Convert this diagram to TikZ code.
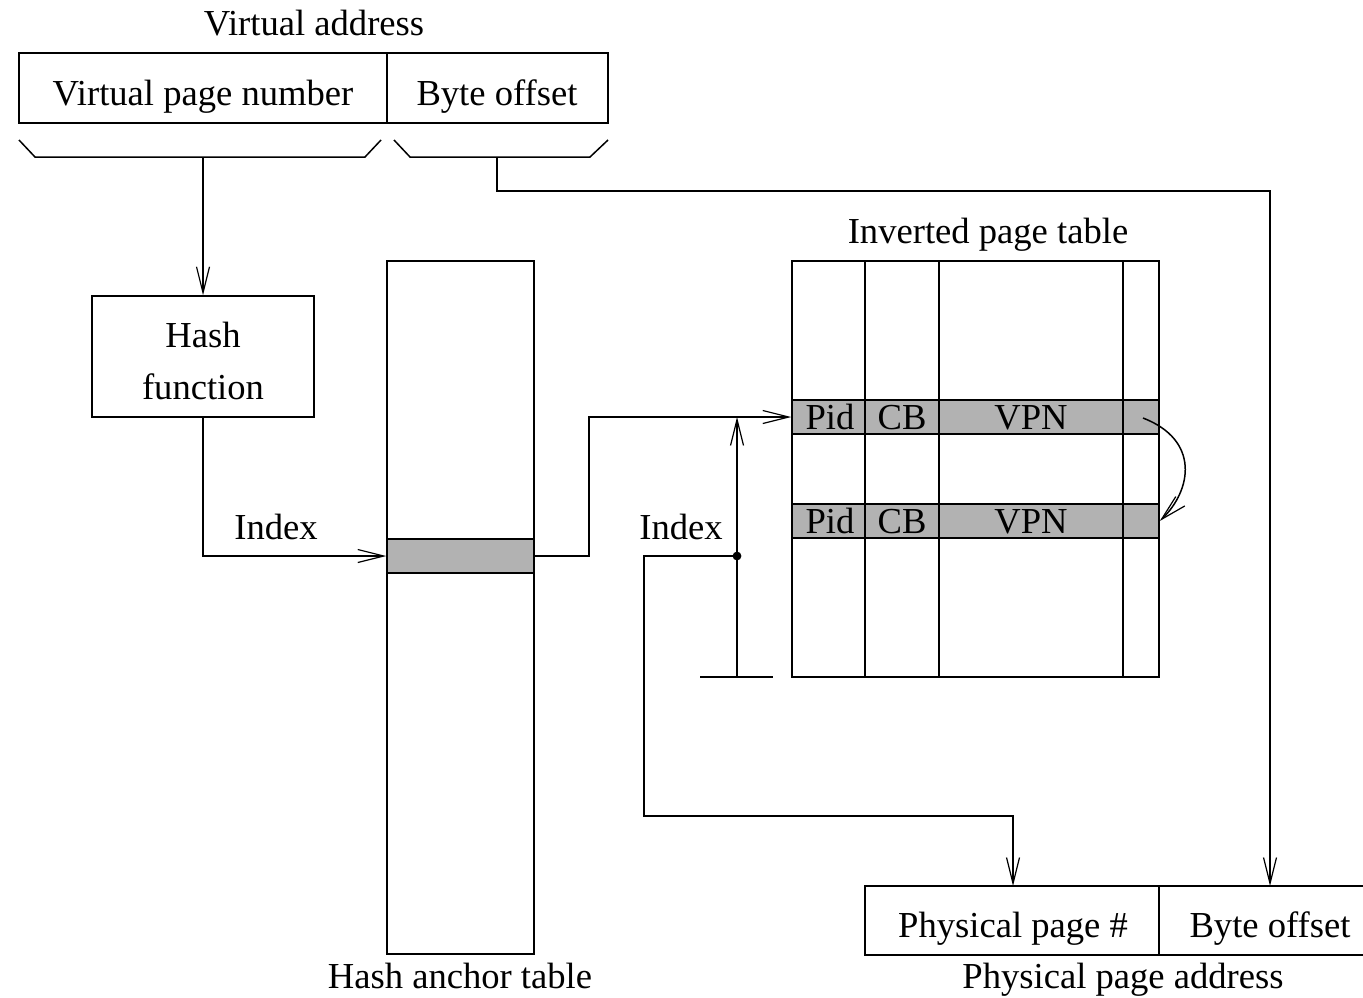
\documentclass[tikz,border=0pt]{standalone}
\usepackage{fontspec}
\setmainfont{Liberation Serif}
\usetikzlibrary{arrows.meta}
\begin{document}
\begin{tikzpicture}[x=0.5pt,y=-0.5pt,
  line width=0.75pt,
  lbl/.style={font=\fontsize{18.3}{22}\selectfont, anchor=base, inner sep=0pt},
  arr/.style={-{Straight Barb[length=13pt,width=6.5pt,line width=0.6pt]}},
  shade/.style={fill=black!30, draw=black},
  box/.style={draw=black, inner sep=0pt}]
\useasboundingbox (0,0) rectangle (1363,997);
% Virtual address
\node[lbl] (valbl) at (314,35) {Virtual address};
\draw (19,53) rectangle (608,123);
\draw (387,53) -- (387,123);
\node[lbl] (vpn) at (203,105) {Virtual page number};
\node[lbl] (vbo) at (497,105) {Byte offset};
% braces
\draw (19,140) -- (35,157) -- (365,157) -- (381,140);
\draw (394,140) -- (410,157) -- (590,157) -- (608,140);
\coordinate (b1) at (203,157);
\coordinate (b2) at (497,157);
% Hash function
\node[box, minimum width=111pt, minimum height=60.5pt] (hash) at (203,356.5) {};
\node[lbl] (h1) at (203,347) {Hash};
\node[lbl] (h2) at (203,399) {function};
\draw[arr] (b1) -- (hash.north);
% Hash anchor table
\node[box, minimum width=73.5pt, minimum height=346.5pt] (hat) at (460.5,607.5) {};
\node[shade, minimum width=73.5pt, minimum height=17pt, inner sep=0pt] (hrow) at (460.5,556) {};
\node[lbl] (hatlbl) at (460,988) {Hash anchor table};
\draw[arr] (hash.south) -- (203,556) -- (hrow.west);
\node[lbl] (idx1) at (276,539) {Index};
% Inverted page table
\node[lbl] (iptlbl) at (988,243) {Inverted page table};
\node[shade, minimum width=183.5pt, minimum height=17pt, inner sep=0pt] (r1) at (975.5,417) {};
\node[shade, minimum width=183.5pt, minimum height=17pt, inner sep=0pt] (r2) at (975.5,521) {};
\node[box, minimum width=183.5pt, minimum height=208pt] (ipt) at (975.5,469) {};
\draw (865,261) -- (865,677);
\draw (939,261) -- (939,677);
\draw (1123,261) -- (1123,677);
\node[lbl] (p1) at (830,429) {Pid};
\node[lbl] (c1) at (902,429) {CB};
\node[lbl] (v1) at (1031,429) {VPN};
\node[lbl] (p2) at (830,533) {Pid};
\node[lbl] (c2) at (902,533) {CB};
\node[lbl] (v2) at (1031,533) {VPN};
\draw[arr] (hrow.east) -- (589,556) -- (589,417) -- (r1.west);
\coordinate (chain) at (1143,418);
\draw[arr] (chain) .. controls (1200,440) and (1192,490) .. (r2.east);
% Index pointer
\coordinate (ibot) at (737,677);
\coordinate (dot) at (737,556);
\draw (700,677) -- (773,677);
\draw[arr] (ibot) -- (737,417);
\fill (dot) circle (2.2pt);
\node[lbl] (idx2) at (681,539) {Index};
% Physical address
\draw (865,886) rectangle (1366,955);
\draw (1159,886) -- (1159,955);
\node[lbl] (ppn) at (1013,937) {Physical page \#};
\node[lbl] (pbo) at (1270,937) {Byte offset};
\node[lbl] (palbl) at (1123,988) {Physical page address};
\coordinate (pptop) at (1013,886);
\coordinate (pbtop) at (1270,886);
\draw[arr] (dot) -- (644,556) -- (644,816) -- (1013,816) -- (pptop);
\draw[arr] (b2) -- (497,191) -- (1270,191) -- (pbtop);
\end{tikzpicture}
\end{document}
